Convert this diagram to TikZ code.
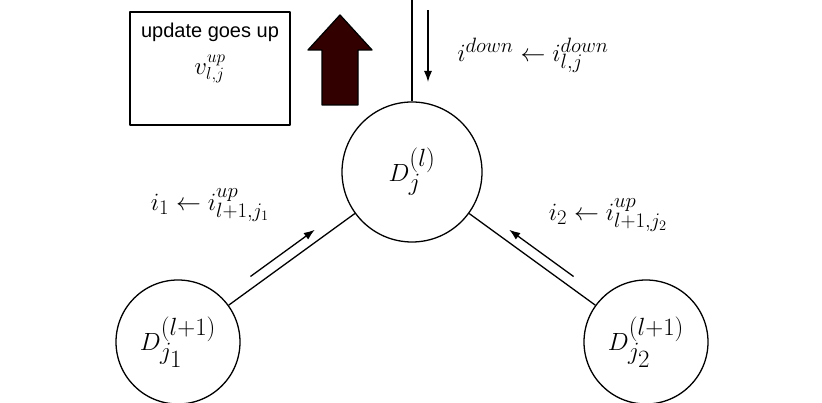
\documentclass[tikz,border=0pt]{standalone}
\usepackage{fontspec}
\setsansfont{Liberation Sans}
\usetikzlibrary{positioning,calc,arrows.meta}
\definecolor{darkmaroon}{RGB}{51,0,0}
\begin{document}
\begin{tikzpicture}[x=1pt,y=1pt,line join=round,line width=1.3pt,>={Latex[length=11pt,width=8pt]},
  dnode/.style={draw,circle,inner sep=0pt,font=\fontsize{48}{50}\selectfont},
  lbl/.style={font=\fontsize{30}{32}\selectfont}]
\useasboundingbox (0,0) rectangle (822,403);
% nodes
\node[dnode,minimum size=140pt] (c) at (412,231) {$D_j^{(l)}$};
\node[dnode,minimum size=124pt] (b1) at (178,61) {$D_{j_1}^{(l+1)}$};
\node[dnode,minimum size=124pt] (b2) at (646,61) {$D_{j_2}^{(l+1)}$};
\coordinate (top) at (412,403);
% connections
\draw (top) -- (c);
\draw (b1) -- (c);
\draw (b2) -- (c);
\path (b1) -- (c) coordinate[pos=0.22] (s1) coordinate[pos=0.73] (e1);
\path (b2) -- (c) coordinate[pos=0.22] (s2) coordinate[pos=0.73] (e2);
\draw[->] ($(s1)+(-6,8.5)$) -- ($(e1)+(-6,8.5)$);
\draw[->] ($(s2)+(6,8.5)$) -- ($(e2)+(6,8.5)$);
\coordinate (ds) at (428,393);
\coordinate (de) at (428,321);
\draw[->] (ds) -- (de);
% labels
\node[lbl] at (533,348) {$i^{down}\leftarrow i^{down}_{l,j}$};
\node[lbl] at (210,198) {$i_1\leftarrow i^{up}_{l+1,j_1}$};
\node[lbl] at (608,188) {$i_2\leftarrow i^{up}_{l+1,j_2}$};
% box
\draw (130,391) rectangle (290,278);
\node[font=\sffamily\fontsize{20}{22}\selectfont] (upd) at (210,371) {update goes up};
\node[below=6pt of upd,font=\fontsize{26}{28}\selectfont] {$v^{up}_{l,j}$};
% big arrow
\filldraw[fill=darkmaroon] (322,298) -- (358,298) -- (358,353) -- (372,353) -- (340,388)
  -- (308,353) -- (322,353) -- cycle;
\end{tikzpicture}
\end{document}
